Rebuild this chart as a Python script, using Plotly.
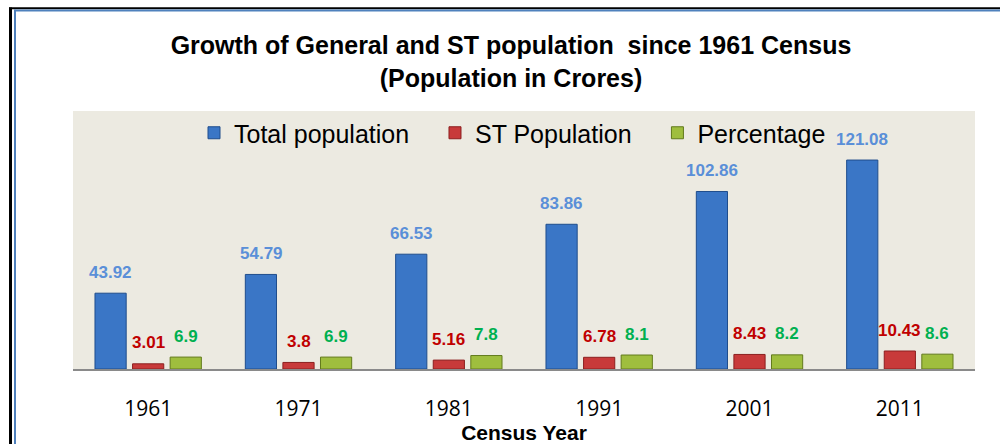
import plotly.graph_objects as go

years = ["1961", "1971", "1981", "1991", "2001", "2011"]
total_population = [43.92, 54.79, 66.53, 83.86, 102.86, 121.08]
st_population = [3.01, 3.8, 5.16, 6.78, 8.43, 10.43]
percentage = [6.9, 6.9, 7.8, 8.1, 8.2, 8.6]

series_names = ["Total population", "ST Population", "Percentage"]
series_values = [total_population, st_population, percentage]
fill_colors = ["#3a76c6", "#c83a3a", "#9fbe3e"]
line_colors = ["#1f4d8c", "#8c1f1f", "#627a1c"]
label_colors = ["#5a8fd8", "#c00000", "#00b050"]
label_shift = [-37.5, 0, 37.5]

# plot area in pixels
L, R, T, B = 73, 975, 111, 369
W, H = 1000, 444
pw, ph = R - L, B - T

NB = "\u00a0"
legend_pad = [NB * 3, NB * 3, ""]

fig = go.Figure()
for name, vals, fc, lc, pad in zip(series_names, series_values, fill_colors, line_colors, legend_pad):
    fig.add_trace(go.Bar(
        name=name + pad, x=years, y=vals,
        marker=dict(color=fc, line=dict(color=lc, width=1)),
        hovertemplate=name + ": %{y}<extra>%{x}</extra>",
    ))

annotations = []
for vals, col, dx in zip(series_values, label_colors, label_shift):
    for i, v in enumerate(vals):
        annotations.append(dict(
            x=i, y=v, xref="x", yref="y", text=f"<b>{v:g}</b>",
            showarrow=False, xshift=dx, yshift=21, yanchor="middle",
            font=dict(family="Arial, Liberation Sans", size=17, color=col),
        ))

def px_x(p):
    return (p - L) / pw

def px_y(p):
    return (B - p) / ph

shapes = [
    dict(type="line", xref="paper", yref="paper", x0=px_x(9), x1=px_x(1000), y0=px_y(8.2), y1=px_y(8.2),
         line=dict(color="black", width=2)),
    dict(type="line", xref="paper", yref="paper", x0=px_x(14), x1=px_x(1000), y0=px_y(10.6), y1=px_y(10.6),
         line=dict(color="#4f81bd", width=2)),
    dict(type="line", xref="paper", yref="paper", x0=px_x(10.5), x1=px_x(10.5), y0=px_y(7.5), y1=px_y(444),
         line=dict(color="black", width=3)),
    dict(type="line", xref="paper", yref="paper", x0=px_x(15), x1=px_x(15), y0=px_y(9.8), y1=px_y(444),
         line=dict(color="#4f81bd", width=2)),
]

fig.update_layout(
    width=W, height=H,
    margin=dict(l=L, r=W - R, t=T, b=H - B, pad=0, autoexpand=False),
    paper_bgcolor="white",
    plot_bgcolor="#eceae1",
    barmode="group", bargap=0.25, bargroupgap=0.17,
    title=dict(
        text="<b>Growth of General and ST population  since 1961 Census<br>(Population in Crores)</b>",
        font=dict(family="Arial, Liberation Sans", size=25, color="black"),
        x=0.511, xanchor="center", y=1 - 54 / H, yanchor="middle", yref="container",
    ),
    legend=dict(
        orientation="h", x=px_x(194), xanchor="left", y=px_y(133), yanchor="middle",
        bgcolor="rgba(0,0,0,0)",
        font=dict(family="Arial, Liberation Sans", size=25, color="black"),
    ),
    xaxis=dict(
        type="category", showgrid=False, ticks="", range=[-0.5, len(years) - 0.5],
        automargin=False,
        showline=True, linecolor="#8a8a8a", linewidth=2,
        tickfont=dict(family="Open Sans", size=21, color="black"),
        ticklabelstandoff=20,
        title=dict(text="<b>Census Year</b>", font=dict(family="Arial, Liberation Sans", size=21, color="black"),
                   standoff=0),
    ),
    yaxis=dict(range=[0, 149.5], showgrid=False, showticklabels=False, ticks="", zeroline=False,
               showline=False, automargin=False),
    annotations=annotations,
    shapes=shapes,
    showlegend=True,
)

fig.write_html("out.html", config={"displayModeBar": False},
               post_script="document.body.style.margin='0';")
